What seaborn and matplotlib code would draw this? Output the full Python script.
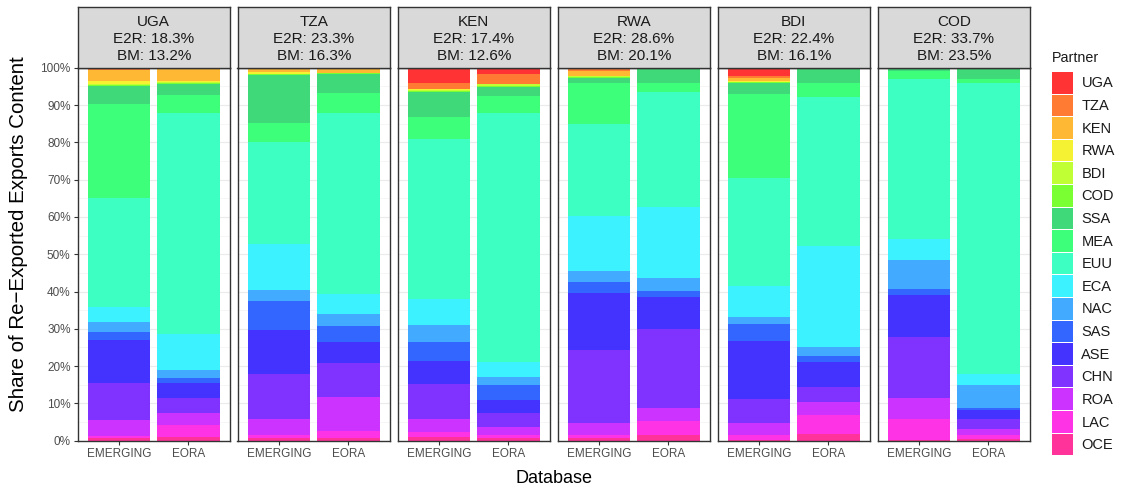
import numpy as np
import pandas as pd
import matplotlib
matplotlib.use("Agg")
import matplotlib.pyplot as plt
import seaborn as sns
from matplotlib.patches import Patch
from matplotlib.ticker import MultipleLocator, FuncFormatter

# ---------------- data ----------------
partners = ["UGA", "TZA", "KEN", "RWA", "BDI", "COD", "SSA", "MEA", "EUU",
            "ECA", "NAC", "SAS", "ASE", "CHN", "ROA", "LAC", "OCE"]
partner_colors = ["#FF3333", "#FF7A33", "#FFB833", "#F5F233", "#BFFF33", "#7AFF33",
                  "#40D97A", "#3DFF7A", "#3DFFC2", "#3DF2FF", "#42AAFF", "#3366FF",
                  "#4433FF", "#8033FF", "#CC33FF", "#FF33E6", "#FF3399"]
countries = ["UGA", "TZA", "KEN", "RWA", "BDI", "COD"]
e2r = [18.3, 23.3, 17.4, 28.6, 22.4, 33.7]
bm = [13.2, 16.3, 12.6, 20.1, 16.1, 23.5]
databases = ["EMERGING", "EORA"]

# shares (%) in partner order UGA ... OCE
uga_emerging = [0, 0.5, 3.1, 0.7, 0.3, 0.4, 4.8, 25.2, 29.4, 3.9, 2.7, 2.1, 11.7, 9.9, 4.2, 0.7, 0.6]
uga_eora = [0, 0.3, 3.3, 0.3, 0.15, 0.3, 2.9, 4.8, 59.3, 9.7, 2.1, 1.4, 4.0, 4.0, 3.1, 3.2, 1.1]
tza_emerging = [0.2, 0, 1.0, 0.4, 0.2, 0.2, 12.7, 5.1, 27.4, 12.1, 3.0, 7.8, 11.9, 12.0, 4.3, 0.8, 0.6]
tza_eora = [0, 0, 1.3, 0, 0, 0.3, 5.1, 5.4, 48.6, 5.3, 3.2, 4.2, 5.8, 9.1, 8.9, 2.1, 0.6]
ken_emerging = [4.1, 1.5, 0, 0.4, 0.2, 0.2, 6.8, 5.9, 42.9, 7.0, 4.7, 4.9, 6.4, 9.4, 3.3, 1.3, 1.1]
ken_eora = [1.7, 2.6, 0, 0.1, 0.4, 0.4, 2.5, 4.5, 66.5, 4.2, 2.2, 3.8, 3.7, 3.5, 2.4, 0.8, 0.6]
rwa_emerging = [0.45, 0.5, 1.3, 0, 0.3, 0.3, 1.2, 11.0, 25.0, 14.6, 3.1, 3.0, 15.3, 19.5, 3.3, 1.0, 0.6]
rwa_eora = [0, 0, 0, 0, 0, 0.2, 3.9, 2.5, 30.8, 19.0, 3.4, 1.5, 8.6, 21.2, 3.4, 3.9, 1.5]
bdi_emerging = [2.2, 0.6, 0.7, 0.4, 0, 0.3, 2.8, 22.6, 28.9, 8.4, 2.0, 4.5, 15.6, 6.3, 3.4, 1.1, 0.3]
bdi_eora = [0, 0, 0, 0, 0, 0.3, 3.8, 3.7, 40.0, 27.1, 2.3, 1.6, 6.8, 4.0, 3.4, 5.1, 1.8]
cod_emerging = [0, 0, 0, 0, 0, 0, 0.8, 2.3, 42.8, 5.8, 7.8, 1.4, 11.4, 16.4, 5.7, 5.6, 0.1]
cod_eora = [0, 0, 0, 0, 0, 0, 3.0, 1.1, 78.0, 3.1, 6.1, 0.6, 2.3, 2.6, 1.8, 1.0, 0.4]

shares = {
    ("UGA", "EMERGING"): uga_emerging, ("UGA", "EORA"): uga_eora,
    ("TZA", "EMERGING"): tza_emerging, ("TZA", "EORA"): tza_eora,
    ("KEN", "EMERGING"): ken_emerging, ("KEN", "EORA"): ken_eora,
    ("RWA", "EMERGING"): rwa_emerging, ("RWA", "EORA"): rwa_eora,
    ("BDI", "EMERGING"): bdi_emerging, ("BDI", "EORA"): bdi_eora,
    ("COD", "EMERGING"): cod_emerging, ("COD", "EORA"): cod_eora,
}

rows = []
for (c, d), vals in shares.items():
    tot = sum(vals)
    for p, v in zip(partners, vals):
        rows.append({"Country": c, "Database": d, "Partner": p, "Share": v / tot})
df = pd.DataFrame(rows)

# ---------------- style ----------------
sns.set_theme(style="white")
plt.rcParams["font.family"] = ["Liberation Sans", "DejaVu Sans"]

W, H = 1121, 490
fig = plt.figure(figsize=(W / 100, H / 100), dpi=100)
palette = dict(zip(partners, partner_colors))

panel_left0 = 77.5
panel_step = 160.0
panel_w = 152.5
panel_top = 67.7
panel_bot = 440.7
strip_top = 7.5

tick_col = "#4D4D4D"
frame_col = "#333333"

for i, c in enumerate(countries):
    x0 = panel_left0 + i * panel_step
    ax = fig.add_axes([x0 / W, (H - panel_bot) / H, panel_w / W, (panel_bot - panel_top) / H])
    sub = df[df["Country"] == c].copy()
    sub["Database"] = pd.Categorical(sub["Database"], categories=databases)
    sns.histplot(data=sub, x="Database", weights="Share", hue="Partner",
                 hue_order=partners, palette=palette, multiple="stack",
                 discrete=True, shrink=0.9, alpha=1, linewidth=0,
                 edgecolor="none", legend=False, ax=ax, zorder=2)
    ax.set_xlim(-0.6, 1.6)
    ax.set_ylim(0, 1)
    ax.set_xticks([0, 1])
    ax.set_xticklabels(databases)
    ax.yaxis.set_major_locator(MultipleLocator(0.1))
    ax.yaxis.set_minor_locator(MultipleLocator(0.05))
    ax.yaxis.set_major_formatter(FuncFormatter(lambda v, _: f"{v*100:.0f}%"))
    ax.grid(True, which="major", axis="both", color="#EBEBEB", linewidth=0.8, zorder=0)
    ax.grid(True, which="minor", axis="y", color="#F3F3F3", linewidth=0.5, zorder=0)
    ax.set_axisbelow(True)
    ax.set_xlabel("")
    ax.set_ylabel("")
    ax.tick_params(axis="both", which="major", length=3, width=0.8, color=frame_col,
                   labelsize=8.5, labelcolor=tick_col, pad=2, direction="out",
                   bottom=True, left=True)
    ax.tick_params(axis="y", which="minor", length=0)
    if i > 0:
        ax.tick_params(axis="y", labelleft=False, left=False)
    for s in ax.spines.values():
        s.set_color(frame_col)
        s.set_linewidth(1.0)
        s.set_zorder(5)

    # strip
    sax = fig.add_axes([x0 / W, (H - panel_top) / H, panel_w / W, (panel_top - strip_top) / H])
    sax.set_facecolor("#D9D9D9")
    sax.set_xticks([])
    sax.set_yticks([])
    for s in sax.spines.values():
        s.set_color(frame_col)
        s.set_linewidth(1.0)
    sax.text(0.5, 0.475, f"{c}\nE2R: {e2r[i]:.1f}%\nBM: {bm[i]:.1f}%",
             ha="center", va="center", fontsize=11, color="#1A1A1A",
             linespacing=1.25, transform=sax.transAxes)

# axis titles
fig.text(19 / W, 1 - 234 / H, "Share of Re\u2212Exported Exports Content", rotation=90,
         ha="center", va="center", fontsize=14.8, color="black")
fig.text(553.75 / W, 1 - 478 / H, "Database", ha="center", va="center",
         fontsize=13, color="black")

# legend
fig.text(1051.5 / W, 1 - 58 / H, "Partner", ha="left", va="center",
         fontsize=10.3, color="#1A1A1A")
handles = [Patch(facecolor=col, edgecolor="none") for col in partner_colors]
leg = fig.legend(handles, partners, loc="upper left",
                 bbox_to_anchor=(1052 / W, 1 - 72 / H), frameon=False,
                 fontsize=10.5, handlelength=1.42, handleheight=1.9,
                 labelspacing=0.07, handletextpad=0.6, borderpad=0,
                 borderaxespad=0)
for t in leg.get_texts():
    t.set_color("#1A1A1A")

fig.savefig("out.png", dpi=100)
